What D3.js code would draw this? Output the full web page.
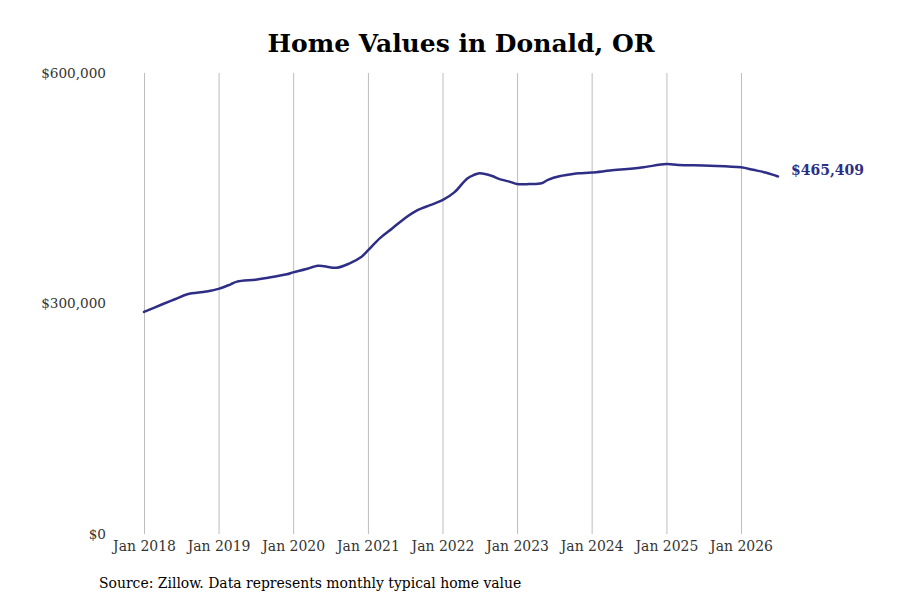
<!DOCTYPE html>
<html lang="en">
<head>
	<meta charset="utf-8">
	<title>Home Values in Donald, OR</title>
	<script src="https://cdn.jsdelivr.net/npm/d3@7"></script>
	<style>
		body { margin: 0; background: #fff; }
		svg text { font-family: "DejaVu Serif", serif; }
	</style>
</head>
<body>
	<script>
		// monthly typical home value (thousands of $)
		var months = ["2018-01", "2018-04", "2018-06", "2018-08", "2018-11",
			"2019-01", "2019-03", "2019-04", "2019-07", "2019-09", "2019-12",
			"2020-01", "2020-03", "2020-05", "2020-06", "2020-08", "2020-10", "2020-12",
			"2021-01", "2021-03", "2021-05", "2021-07", "2021-09", "2021-11",
			"2022-01", "2022-03", "2022-05", "2022-06", "2022-07", "2022-09", "2022-10", "2022-12",
			"2023-01", "2023-03", "2023-05", "2023-06", "2023-08", "2023-10", "2023-11",
			"2024-01", "2024-04", "2024-09",
			"2025-01", "2025-03", "2025-08",
			"2026-01", "2026-03", "2026-05", "2026-07"];
		var values = [289, 299, 305.5, 312, 315.5,
			319, 325, 328.5, 331, 333.5, 338,
			340.5, 344.5, 349, 348.5, 346.5, 352, 361,
			369, 385, 398, 411, 421.5, 428,
			434.5, 445, 462.5, 467, 469.5, 466, 462.5, 458,
			455.5, 455.5, 456.5, 461, 466, 468.6, 469.5,
			470.5, 473, 477,
			481.5, 480.3, 479.4,
			477.3, 474, 470.5, 465.409];
		var yTicks = [0, 300000, 600000];
		var lastLabel = "$465,409";

		var w = 900;
		var h = 600;

		var parse = d3.timeParse("%Y-%m");
		var data = months.map(function(m, i) {
			return { date: parse(m), value: values[i] * 1000 };
		});

		var svg = d3.select("body")
			.append("svg")
			.attr("width", w)
			.attr("height", h);

		var x = d3.scaleTime()
			.domain([parse("2018-01"), parse("2026-01")])
			.range([144, 741]);

		var y = d3.scaleLinear()
			.domain([0, 600000])
			.range([534, 73]);

		// title
		svg.append("text")
			.attr("x", 461)
			.attr("y", 52)
			.attr("text-anchor", "middle")
			.attr("font-size", "25px")
			.attr("font-weight", "bold")
			.attr("fill", "#000")
			.text("Home Values in Donald, OR");

		// vertical year grid + labels
		var xAxis = d3.axisBottom(x)
			.ticks(d3.timeYear.every(1))
			.tickSize(-(534 - 73))
			.tickPadding(6)
			.tickFormat(d3.timeFormat("Jan %Y"));

		var gx = svg.append("g")
			.attr("transform", "translate(0,534)")
			.call(xAxis);
		gx.select(".domain").remove();
		gx.selectAll("line").attr("stroke", "#bdbdbd");
		gx.selectAll("text")
			.attr("fill", "#333")
			.attr("font-size", "15.5px")
			.style("font-stretch", "condensed");

		// y labels only
		var yAxis = d3.axisLeft(y)
			.tickValues(yTicks)
			.tickSize(0)
			.tickPadding(0)
			.tickFormat(function(d) { return "$" + d3.format(",")(d); });

		var gy = svg.append("g")
			.attr("transform", "translate(106,0)")
			.call(yAxis);
		gy.select(".domain").remove();
		gy.selectAll("text")
			.attr("fill", "#333")
			.attr("font-size", "13.6px");

		// the line
		var line = d3.line()
			.x(function(d) { return x(d.date); })
			.y(function(d) { return y(d.value); })
			.curve(d3.curveCatmullRom.alpha(0.5));

		svg.append("path")
			.datum(data)
			.attr("fill", "none")
			.attr("stroke", "#2e2e86")
			.attr("stroke-width", 2.5)
			.attr("stroke-linejoin", "round")
			.attr("stroke-linecap", "round")
			.attr("d", line);

		// end label
		var last = data[data.length - 1];
		svg.append("text")
			.attr("x", x(last.date) + 13)
			.attr("y", y(last.value) - 6)
			.attr("dy", "0.35em")
			.attr("font-size", "14px")
			.attr("font-weight", "bold")
			.attr("fill", "#2e2e86")
			.text(lastLabel);

		// source note
		svg.append("text")
			.attr("x", 99)
			.attr("y", 588)
			.attr("font-size", "15.5px")
			.attr("fill", "#000")
			.style("font-stretch", "condensed")
			.text("Source: Zillow. Data represents monthly typical home value");
	</script>
</body>
</html>
